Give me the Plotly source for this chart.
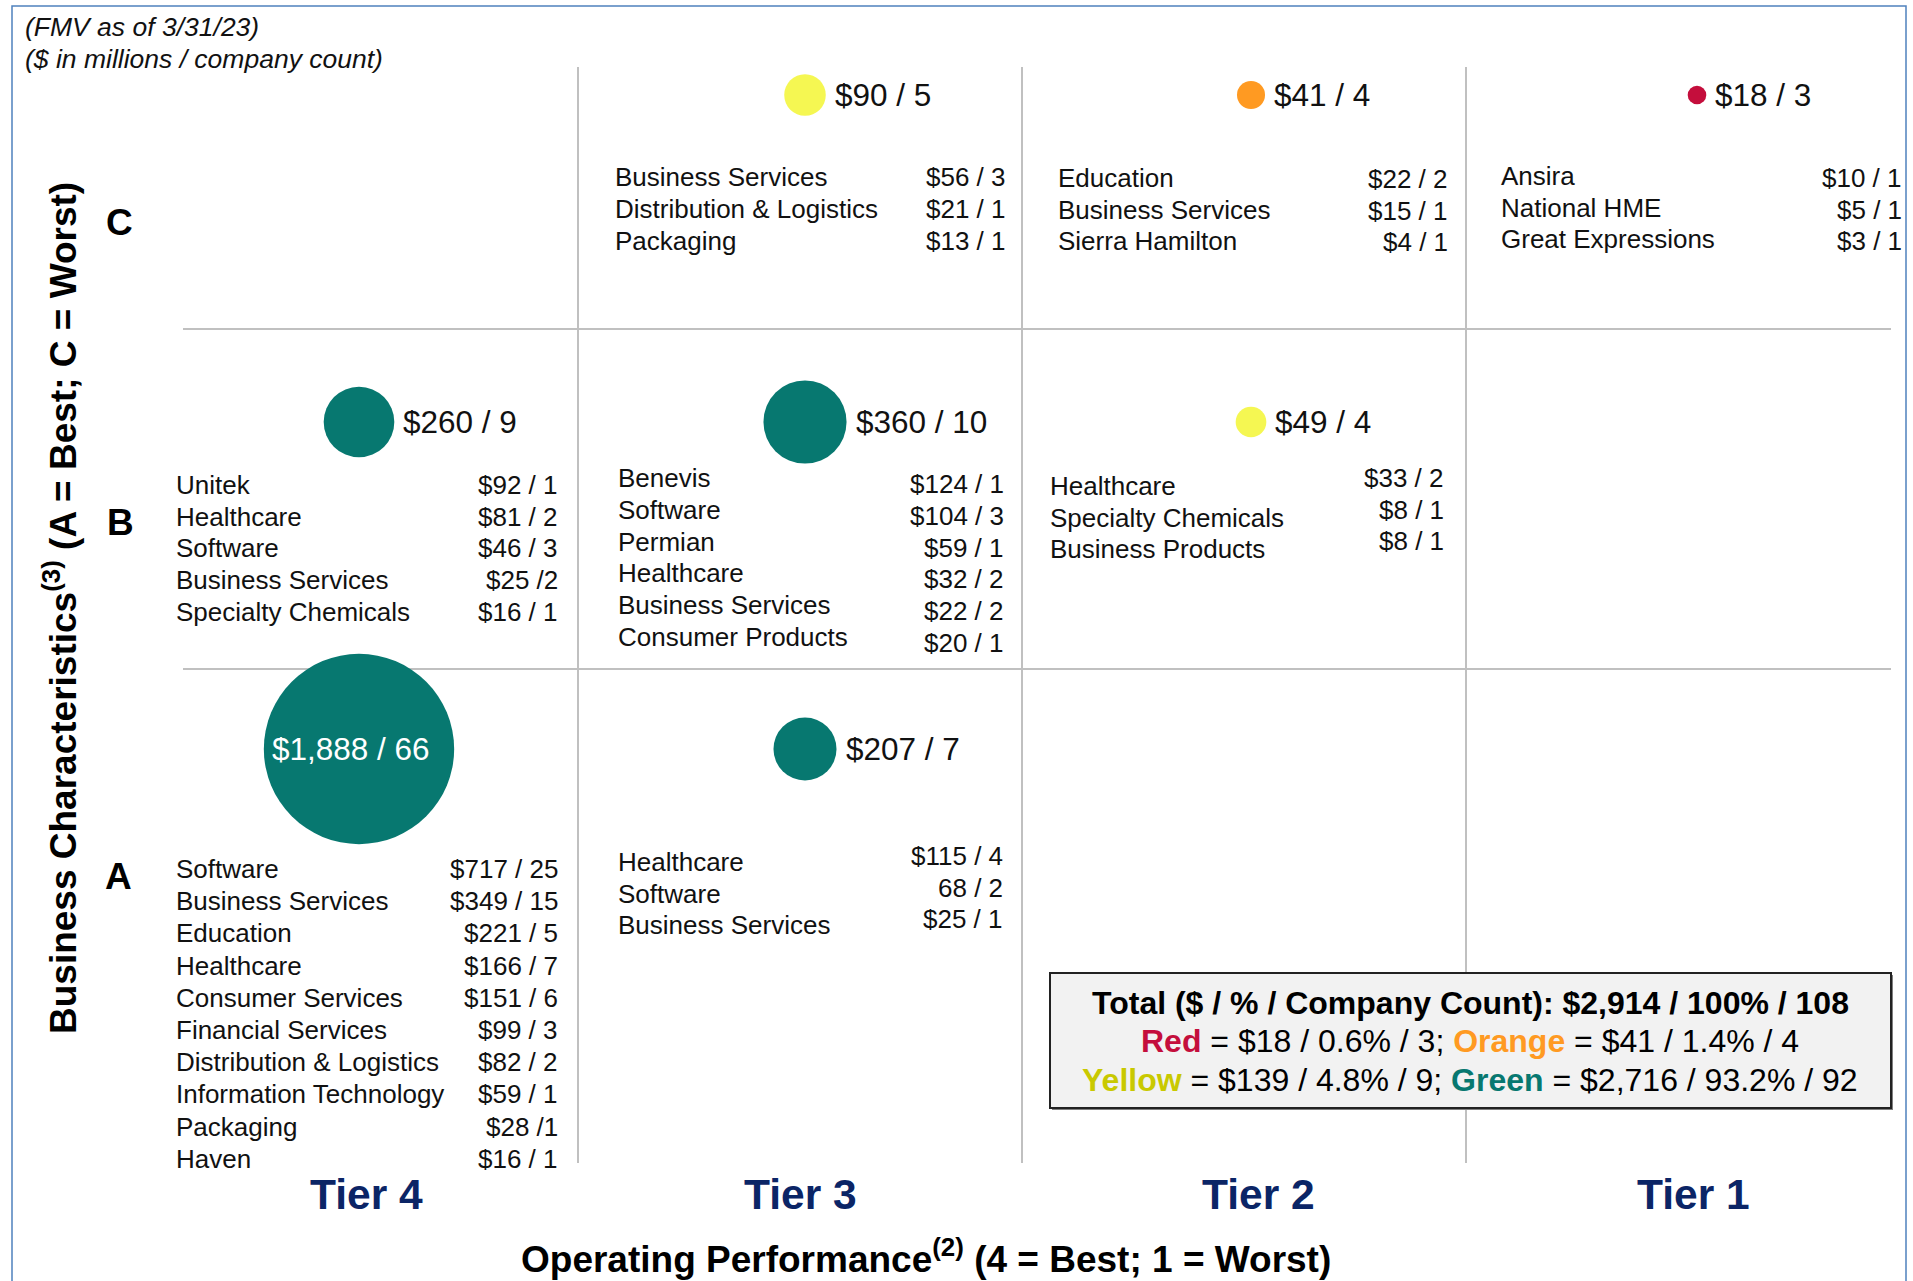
import math
import plotly.graph_objects as go

# ---------------- data ----------------
tiers = [4, 4, 3, 3, 3, 2, 2, 1]
grades = ["A", "B", "A", "B", "C", "B", "C", "C"]
fmv = [1888, 260, 207, 360, 90, 49, 41, 18]
company_counts = [66, 9, 7, 10, 5, 4, 4, 3]
ratings = ["Green", "Green", "Green", "Green", "Yellow", "Yellow", "Orange", "Red"]

tier_values = [4, 3, 2, 1]
tier_labels = ["Tier 4", "Tier 3", "Tier 2", "Tier 1"]
grade_labels = ["A", "B", "C"]

t4a_names = ["Software", "Business Services", "Education", "Healthcare", "Consumer Services",
             "Financial Services", "Distribution & Logistics", "Information Technology",
             "Packaging", "Haven"]
t4a_vals = ["$717 / 25", "$349 / 15", "$221 / 5", "$166 / 7", "$151 / 6", "$99 / 3",
            "$82 / 2", "$59 / 1", "$28 /1", "$16 / 1"]
t4b_names = ["Unitek", "Healthcare", "Software", "Business Services", "Specialty Chemicals"]
t4b_vals = ["$92 / 1", "$81 / 2", "$46 / 3", "$25 /2", "$16 / 1"]
t3a_names = ["Healthcare", "Software", "Business Services"]
t3a_vals = ["$115 / 4", "68 / 2", "$25 / 1"]
t3b_names = ["Benevis", "Software", "Permian", "Healthcare", "Business Services", "Consumer Products"]
t3b_vals = ["$124 / 1", "$104 / 3", "$59 / 1", "$32 / 2", "$22 / 2", "$20 / 1"]
t3c_names = ["Business Services", "Distribution & Logistics", "Packaging"]
t3c_vals = ["$56 / 3", "$21 / 1", "$13 / 1"]
t2b_names = ["Healthcare", "Specialty Chemicals", "Business Products"]
t2b_vals = ["$33 / 2", "$8 / 1", "$8 / 1"]
t2c_names = ["Education", "Business Services", "Sierra Hamilton"]
t2c_vals = ["$22 / 2", "$15 / 1", "$4 / 1"]
t1c_names = ["Ansira", "National HME", "Great Expressions"]
t1c_vals = ["$10 / 1", "$5 / 1", "$3 / 1"]

summary_ratings = ["Red", "Orange", "Yellow", "Green"]
summary_values = [18, 41, 139, 2716]
summary_pcts = [0.6, 1.4, 4.8, 93.2]
summary_counts = [3, 4, 9, 92]
total_value = 2914
total_pct = 100
total_count = 108

# ---------------- layout / style constants ----------------
FIG_W, FIG_H = 1913, 1281
X0, W = 359.0, 446.0      # px of tier-4 column centre, px per tier
Y0, H = 422.0, 327.0      # px of grade-B row centre, px per grade
GRADE_NUM = {"A": 1, "B": 2, "C": 3}
FONT = "Liberation Sans, Arial, Helvetica, sans-serif"
COLORS = {"Green": "#077870", "Yellow": "#f5f752", "Orange": "#ff9a22", "Red": "#c40e3c"}
TEXT_COLORS = {"Green": "#077870", "Yellow": "#c9c900", "Orange": "#ff9a22", "Red": "#c40e3c"}
NAVY = "#0b2566"
GRID = "#c0c0c0"
RADIUS_K = 2.19           # bubble radius (px) per sqrt($)
TIER_LABEL_SHIFT = [7, -5, 7, -4]


def x_of_px(px):
    return 4 - (px - X0) / W


def y_of_px(py):
    return 2 - (py - Y0) / H


def xp(px):
    return px / FIG_W


def yp(py):
    return 1 - py / FIG_H


cells = [
    # tier, grade, names, values, name_dx, val_dx, first_dy, step, val_dy
    (4, "A", t4a_names, t4a_vals, -185, 201, 120, 32.2, 0),
    (4, "B", t4b_names, t4b_vals, -185, 201, 63, 31.7, 0),
    (3, "A", t3a_names, t3a_vals, -189, 200, 113, 31.6, -6),
    (3, "B", t3b_names, t3b_vals, -189, 201, 56, 31.8, 6),
    (3, "C", t3c_names, t3c_vals, -192, 203, 82, 32.0, 0),
    (2, "B", t2b_names, t2b_vals, -203, 195, 64, 31.5, -8),
    (2, "C", t2c_names, t2c_vals, -195, 199, 83, 31.5, 1),
    (1, "C", t1c_names, t1c_vals, -198, 207, 81, 31.5, 2),
]

fig = go.Figure()

# bubbles (area proportional to FMV)
fig.add_trace(go.Scatter(
    x=tiers,
    y=[GRADE_NUM[g] for g in grades],
    mode="markers",
    marker=dict(size=fmv, sizemode="area", sizeref=2 / (2 * RADIUS_K) ** 2,
                color=[COLORS[r] for r in ratings], line=dict(width=0), opacity=1),
    hoverinfo="skip", showlegend=False,
))

ann = []

# bubble labels
for t, g, v, c in zip(tiers, grades, fmv, company_counts):
    r = RADIUS_K * math.sqrt(v)
    label = f"${v:,} / {c}"
    if r > 60:
        ann.append(dict(x=t, y=GRADE_NUM[g], xref="x", yref="y", text=label, showarrow=False,
                        xanchor="center", yanchor="middle", xshift=-8,
                        font=dict(family=FONT, size=31.5, color="white")))
    else:
        ann.append(dict(x=t, y=GRADE_NUM[g], xref="x", yref="y", text=label, showarrow=False,
                        xanchor="left", yanchor="middle", xshift=r + 7,
                        font=dict(family=FONT, size=31.5, color="#111111")))

# cell lists
for t, g, names, vals, ndx, vdx, fdy, step, vdy in cells:
    for i, (n, v) in enumerate(zip(names, vals)):
        dy = fdy + i * step
        ann.append(dict(x=t, y=GRADE_NUM[g], xref="x", yref="y", text=n, showarrow=False,
                        xanchor="left", yanchor="middle", xshift=ndx, yshift=-dy,
                        font=dict(family=FONT, size=26, color="#111111")))
        ann.append(dict(x=t, y=GRADE_NUM[g], xref="x", yref="y", text=v, showarrow=False,
                        xanchor="right", yanchor="middle", xshift=vdx, yshift=-(dy + vdy),
                        font=dict(family=FONT, size=26, color="#111111")))

# tier labels (x categories)
for tv, tl, sh in zip(tier_values, tier_labels, TIER_LABEL_SHIFT):
    ann.append(dict(x=tv, y=y_of_px(1194), xref="x", yref="y", text=f"<b>{tl}</b>", showarrow=False,
                    xanchor="center", yanchor="middle", xshift=sh,
                    font=dict(family=FONT, size=42.5, color=NAVY)))

# grade labels (y categories)
grade_label_px = {"A": (118, 876), "B": (120, 522), "C": (119, 222)}
for gl in grade_labels:
    px, py = grade_label_px[gl]
    ann.append(dict(x=x_of_px(px), y=y_of_px(py), xref="x", yref="y", text=f"<b>{gl}</b>",
                    showarrow=False, xanchor="center", yanchor="middle",
                    font=dict(family=FONT, size=37, color="#000000")))

# axis titles
ann.append(dict(x=xp(926), y=yp(1256), xref="paper", yref="paper",
                text="<b>Operating Performance<sup>(2)</sup> (4 = Best; 1 = Worst)</b>",
                showarrow=False, xanchor="center", yanchor="middle",
                font=dict(family=FONT, size=37, color="#000000")))
ann.append(dict(x=xp(60), y=yp(608), xref="paper", yref="paper", textangle=-90,
                text="<b>Business Characteristics<sup>(3)</sup> (A = Best; C = Worst)</b>",
                showarrow=False, xanchor="center", yanchor="middle",
                font=dict(family=FONT, size=37, color="#000000")))

# header notes
ann.append(dict(x=xp(23), y=yp(27), xref="paper", yref="paper", text="<i>(FMV as of 3/31/23)</i>",
                showarrow=False, xanchor="left", yanchor="middle",
                font=dict(family=FONT, size=26.5, color="#111111")))
ann.append(dict(x=xp(23), y=yp(59), xref="paper", yref="paper",
                text="<i>($ in millions / company count)</i>",
                showarrow=False, xanchor="left", yanchor="middle",
                font=dict(family=FONT, size=26.5, color="#111111")))


# summary box text
def seg(i):
    name = summary_ratings[i]
    return (f"<b><span style='color:{TEXT_COLORS[name]}'>{name}</span></b> = "
            f"${summary_values[i]:,} / {summary_pcts[i]}% / {summary_counts[i]}")


summary_lines = [
    f"<b>Total ($ / % / Company Count): ${total_value:,} / {total_pct}% / {total_count}</b>",
    f"{seg(0)}; {seg(1)}",
    f"{seg(2)}; {seg(3)}",
]
for line, py in zip(summary_lines, [1003, 1041, 1080]):
    ann.append(dict(x=xp(1470), y=yp(py), xref="paper", yref="paper", text=line,
                    showarrow=False, xanchor="center", yanchor="middle", align="center",
                    font=dict(family=FONT, size=32, color="#000000")))

shapes = []
# outer frame
shapes.append(dict(type="rect", xref="paper", yref="paper", x0=xp(12), x1=xp(1906),
                   y0=yp(1295), y1=yp(6), line=dict(color="#4f81bd", width=1.5), layer="below"))
# grid lines between tiers
for b in [3.5, 2.5, 1.5]:
    xb = b + (4 + 2 * (3.5 - b)) / W
    shapes.append(dict(type="line", xref="x", yref="y", x0=xb, x1=xb,
                       y0=y_of_px(67), y1=y_of_px(1163), line=dict(color=GRID, width=2), layer="below"))
# grid lines between grades
for py in [329, 669]:
    shapes.append(dict(type="line", xref="x", yref="y", x0=x_of_px(183), x1=x_of_px(1891),
                       y0=y_of_px(py), y1=y_of_px(py), line=dict(color=GRID, width=2), layer="below"))
# summary box (shadow + box)
shapes.append(dict(type="rect", xref="paper", yref="paper", x0=xp(1052), x1=xp(1893),
                   y0=yp(1110), y1=yp(975), line=dict(width=0), fillcolor="#7f7f7f", layer="above"))
shapes.append(dict(type="rect", xref="paper", yref="paper", x0=xp(1050), x1=xp(1891),
                   y0=yp(1108), y1=yp(973), line=dict(color="#222222", width=2),
                   fillcolor="#f2f2f2", layer="above"))

fig.update_layout(
    width=FIG_W, height=FIG_H,
    margin=dict(l=0, r=0, t=0, b=0),
    paper_bgcolor="white", plot_bgcolor="white",
    xaxis=dict(range=[x_of_px(0), x_of_px(FIG_W)], visible=False, fixedrange=True),
    yaxis=dict(range=[y_of_px(FIG_H), y_of_px(0)], visible=False, fixedrange=True),
    annotations=ann, shapes=shapes, showlegend=False,
)

fig.write_html("out.html", config={"displayModeBar": False},
               post_script="document.body.style.margin='0px';document.body.style.overflow='hidden';")
